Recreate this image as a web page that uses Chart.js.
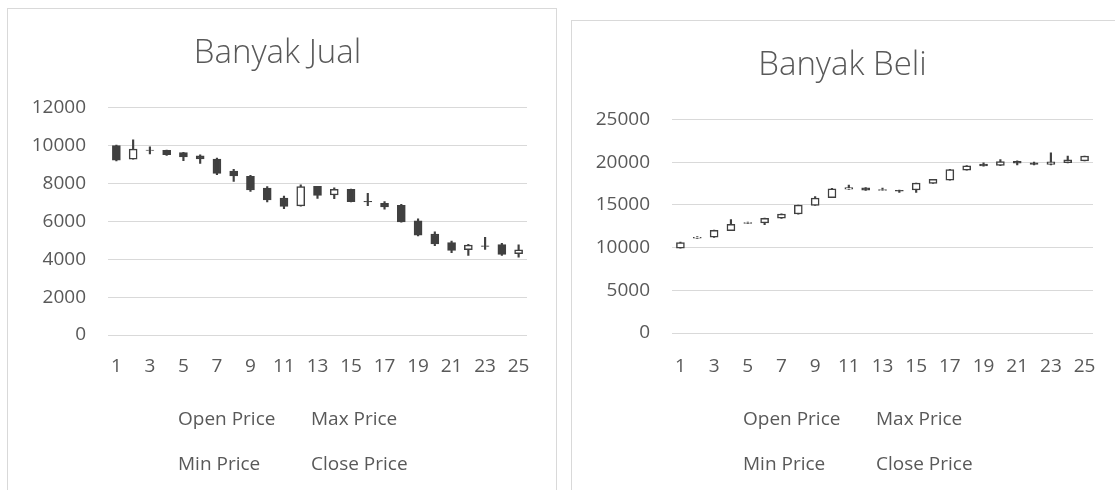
<!DOCTYPE html>
<html>
<head>
<meta charset="utf-8">
<script src="https://cdn.jsdelivr.net/npm/chart.js@4.4.0/dist/chart.umd.min.js"></script>
<style>
    body { margin: 0; width: 1115px; height: 490px; overflow: hidden; background: #ffffff; font-family: "Open Sans", sans-serif; }
    .box { position: absolute; border: 1px solid #d9d9d9; background: #ffffff; }
    .box canvas { display: block; }
    .leg { position: absolute; color: #595959; font-size: 19px; line-height: 24px; white-space: nowrap; }
</style>
</head>
<body>
<div class="box" id="boxJual" style="left:7px; top:8px; width:548px; height:500px;">
    <canvas id="chartJual" width="548" height="482"></canvas>
</div>
<div class="box" id="boxBeli" style="left:571px; top:20px; width:556px; height:490px;">
    <canvas id="chartBeli" width="556" height="470"></canvas>
</div>

<div class="leg" style="left:178px; top:406px;">Open Price</div>
<div class="leg" style="left:311px; top:406px;">Max Price</div>
<div class="leg" style="left:178px; top:451px;">Min Price</div>
<div class="leg" style="left:311px; top:451px;">Close Price</div>

<div class="leg" style="left:743px; top:406px;">Open Price</div>
<div class="leg" style="left:876px; top:406px;">Max Price</div>
<div class="leg" style="left:743px; top:451px;">Min Price</div>
<div class="leg" style="left:876px; top:451px;">Close Price</div>

<script>
// x categories (days 1..25)
const days = ['1','2','3','4','5','6','7','8','9','10','11','12','13','14','15','16','17','18','19','20','21','22','23','24','25'];

// Banyak Jual
const jualOpen  = [10000, 9280, 9760, 9750, 9620, 9460, 9280, 8650, 8370, 7750, 7230, 6810, 7840, 7390, 7690, 7050, 6950, 6840, 6020, 5330, 4880, 4500, 4700, 4770, 4290];
const jualHigh  = [10020, 10300, 9930, 9760, 9640, 9510, 9330, 8740, 8420, 7830, 7330, 7930, 7850, 7760, 7700, 7480, 7040, 6900, 6130, 5440, 4950, 4790, 5160, 4840, 4760];
const jualLow   = [9190, 9280, 9550, 9480, 9200, 9060, 8460, 8110, 7580, 7020, 6670, 6800, 7210, 7200, 7020, 6830, 6640, 5950, 5230, 4720, 4350, 4200, 4520, 4200, 4110];
const jualClose = [9230, 9810, 9740, 9520, 9400, 9290, 8530, 8400, 7650, 7130, 6780, 7830, 7370, 7690, 7040, 7020, 6760, 5970, 5270, 4810, 4460, 4740, 4680, 4250, 4490];
const jualTicks = [0, 2000, 4000, 6000, 8000, 10000, 12000];

// Banyak Beli
const beliOpen  = [9950, 11120, 11220, 12000, 12850, 12890, 13440, 13940, 14960, 15850, 16850, 17000, 16700, 16720, 16750, 17520, 17910, 19080, 19780, 19620, 20100, 19950, 19750, 19940, 20170];
const beliHigh  = [10650, 11300, 12050, 13280, 12980, 13450, 13960, 15000, 15970, 16950, 17330, 17050, 16980, 16740, 17570, 18000, 19170, 19600, 19940, 20320, 20170, 20010, 21100, 20720, 20730];
const beliLow   = [9930, 11080, 11200, 11990, 12820, 12700, 13420, 13930, 14950, 15840, 16830, 16700, 16680, 16470, 16470, 17510, 17900, 19070, 19550, 19610, 19700, 19700, 19700, 19930, 20160];
const beliClose = [10600, 11220, 12030, 12730, 12950, 13430, 13940, 14990, 15810, 16900, 17050, 16720, 16790, 16620, 17560, 17990, 19150, 19580, 19560, 20090, 19900, 19750, 20050, 20300, 20720];
const beliTicks = [0, 5000, 10000, 15000, 20000, 25000];

const dark = '#404040';
const textColor = '#595959';
const gridColor = '#d9d9d9';

function makeCandleChart(canvasId, title, open, high, low, close, ticks, opt) {
    const ctx = document.getElementById(canvasId).getContext('2d');
    return new Chart(ctx, {
        type: 'bar',
        data: {
            labels: days,
            datasets: [
                {
                    // candle bodies (open -> close)
                    label: 'body',
                    data: open.map((o, i) => [o, close[i]]),
                    backgroundColor: open.map((o, i) => close[i] >= o ? '#ffffff' : dark),
                    borderColor: dark,
                    borderWidth: 1.5,
                    borderSkipped: false,
                    barThickness: 8,
                    grouped: false,
                    order: 0
                },
                {
                    // wicks (low -> high)
                    label: 'wick',
                    data: low.map((l, i) => [l, high[i]]),
                    backgroundColor: dark,
                    borderWidth: 0,
                    barThickness: 1.5,
                    grouped: false,
                    order: 1
                }
            ]
        },
        options: {
            responsive: false,
            animation: false,
            layout: { padding: { left: opt.padLeft, right: opt.padRight, top: 0, bottom: opt.padBottom } },
            plugins: {
                legend: { display: false },
                tooltip: { enabled: false },
                title: {
                    display: true,
                    text: title,
                    color: textColor,
                    font: { family: 'Open Sans', size: 33, weight: '300' },
                    padding: { top: 25, bottom: opt.titleBottom }
                }
            },
            scales: {
                x: {
                    grid: { display: false },
                    border: { display: false },
                    ticks: {
                        autoSkip: false,
                        maxRotation: 0,
                        padding: opt.xPad,
                        color: textColor,
                        font: { family: 'Open Sans', size: 19 },
                        callback: (v, i) => i % 2 === 0 ? days[i] : ''
                    },
                    afterFit: scale => { scale.height = 60; }
                },
                y: {
                    min: ticks[0],
                    max: ticks[ticks.length - 1],
                    afterBuildTicks: scale => { scale.ticks = ticks.map(v => ({ value: v })); },
                    grid: { color: gridColor, lineWidth: 1, drawTicks: false },
                    border: { display: false },
                    ticks: {
                        padding: 22,
                        color: textColor,
                        font: { family: 'Open Sans', size: 19 },
                        callback: v => String(v)
                    },
                    afterFit: scale => { scale.width = opt.yWidth; }
                }
            }
        }
    });
}

makeCandleChart('chartJual', 'Banyak Jual', jualOpen, jualHigh, jualLow, jualClose, jualTicks,
    { padLeft: 20, padRight: 29, padBottom: 96, titleBottom: 34, yWidth: 80, xPad: 12 });
makeCandleChart('chartBeli', 'Banyak Beli', beliOpen, beliHigh, beliLow, beliClose, beliTicks,
    { padLeft: 20, padRight: 35, padBottom: 98, titleBottom: 34, yWidth: 80, xPad: 14 });
</script>
</body>
</html>
